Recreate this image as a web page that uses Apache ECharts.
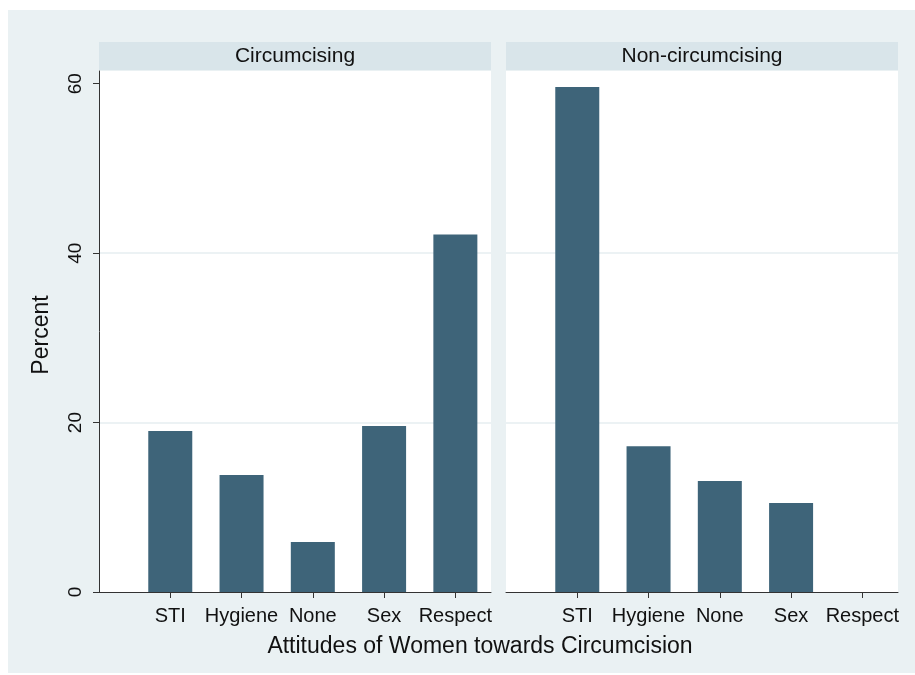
<!DOCTYPE html>
<html>
<head>
<meta charset="utf-8">
<script src="https://cdn.jsdelivr.net/npm/echarts@6/dist/echarts.min.js"></script>
<style>
  html, body { margin: 0; padding: 0; background: #ffffff; }
  #chart { width: 915px; height: 675px; }
</style>
</head>
<body>
<div id="chart"></div>
<script>
// Attitude categories along the x axis (positions 1..5)
const categories = ['STI', 'Hygiene', 'None', 'Sex', 'Respect'];
// Percent of women by attitude, per group
const circumcising = [19.0, 13.8, 5.9, 19.6, 42.2];
const nonCircumcising = [59.6, 17.2, 13.1, 10.5, 0];
const panelTitles = ['Circumcising', 'Non-circumcising'];
const yTicks = [0, 20, 40, 60];
const yMax = 61.5;

const FONT = '"Liberation Sans", Arial, sans-serif';
const BAR = '#3e6479';
const AXIS = '#333333';
const GRIDLINE = '#e6eef0';

const positions = categories.map((_, i) => i + 1);

function xAxisFor(gridIndex) {
  return {
    type: 'value', gridIndex, min: 0, max: 5.5, interval: 1,
    axisLine: { show: true, onZero: false, lineStyle: { color: AXIS, width: 1 } },
    axisTick: { show: true, length: 6, customValues: positions, lineStyle: { color: AXIS } },
    axisLabel: {
      customValues: positions,
      formatter: v => categories[Math.round(v) - 1] || '',
      color: '#111', fontFamily: FONT, fontSize: 20, margin: 14
    },
    splitLine: { show: false }
  };
}

function yAxisFor(gridIndex, showAxis) {
  return {
    type: 'value', gridIndex, min: 0, max: yMax, interval: 20,
    axisLine: { show: showAxis, lineStyle: { color: AXIS, width: 1 } },
    axisTick: { show: showAxis, length: 6, customValues: yTicks, lineStyle: { color: AXIS } },
    axisLabel: {
      show: showAxis, customValues: yTicks, rotate: 90,
      color: '#111', fontFamily: FONT, fontSize: 19, margin: 14
    },
    splitLine: { show: true, showMinLine: false, showMaxLine: false, lineStyle: { color: GRIDLINE, width: 1.5 } }
  };
}

function barSeries(values, idx) {
  return {
    type: 'bar', xAxisIndex: idx, yAxisIndex: idx,
    data: values.map((v, i) => [positions[i], v]),
    barWidth: 44,
    itemStyle: { color: BAR, borderWidth: 0 },
    silent: true
  };
}

const chart = echarts.init(document.getElementById('chart'), null, { renderer: 'canvas' });

const panels = [
  { left: 99, width: 392 },
  { left: 506, width: 392 }
];

chart.setOption({
  animation: false,
  backgroundColor: '#ffffff',
  graphic: [
    { type: 'rect', z: -10, silent: true, shape: { x: 8, y: 10, width: 907, height: 663 }, style: { fill: '#eaf1f3' } },
    ...panels.map((p, i) => ({
      type: 'rect', z: -5, silent: true,
      shape: { x: p.left, y: 42, width: p.width, height: 28 },
      style: { fill: '#d9e5ea' }
    })),
    ...panels.map((p, i) => ({
      type: 'text', silent: true,
      x: p.left + p.width / 2, y: 56,
      style: { text: panelTitles[i], fill: '#111', font: '21px ' + FONT, align: 'center', verticalAlign: 'middle' }
    })),
    {
      type: 'text', silent: true, x: 480, y: 647,
      style: { text: 'Attitudes of Women towards Circumcision', fill: '#111', font: '23px ' + FONT, align: 'center', verticalAlign: 'middle' }
    },
    {
      type: 'text', silent: true, x: 42, y: 335, rotation: Math.PI / 2,
      style: { text: 'Percent', fill: '#111', font: '23px ' + FONT, align: 'center', verticalAlign: 'middle' }
    }
  ],
  grid: panels.map(p => ({
    left: p.left, width: p.width, top: 71, bottom: 83,
    show: true, backgroundColor: '#ffffff', borderWidth: 0
  })),
  xAxis: [xAxisFor(0), xAxisFor(1)],
  yAxis: [yAxisFor(0, true), yAxisFor(1, false)],
  series: [barSeries(circumcising, 0), barSeries(nonCircumcising, 1)]
});
</script>
</body>
</html>
